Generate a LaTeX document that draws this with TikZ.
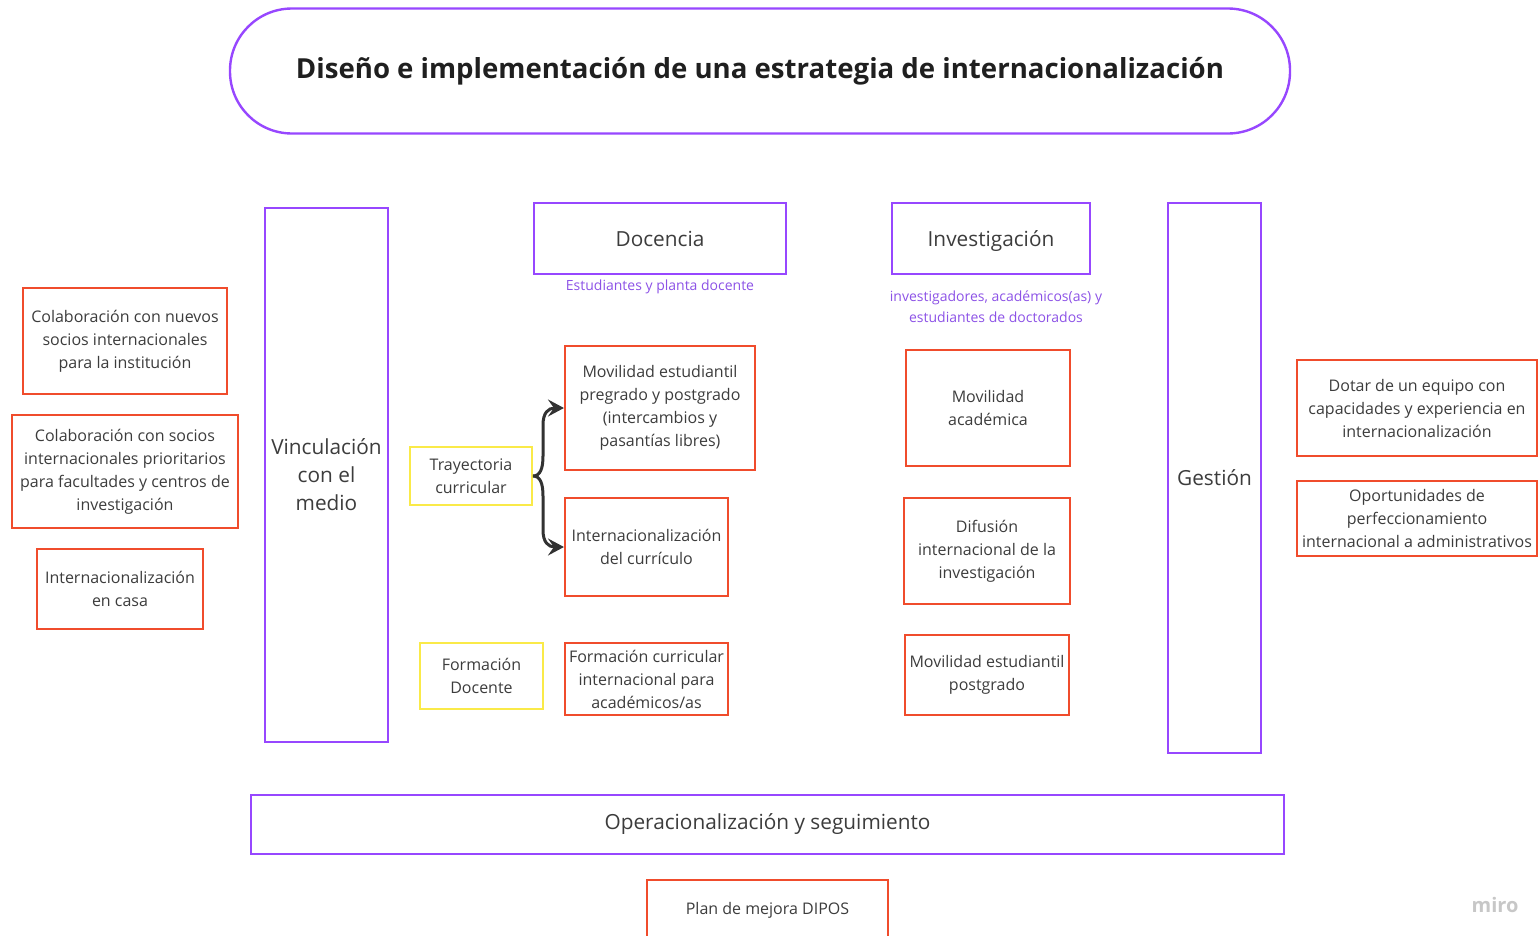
\documentclass[tikz,border=0pt]{standalone}
\usepackage{fontspec}
\setmainfont{Open Sans}
\usetikzlibrary{arrows.meta}

\definecolor{purpleline}{RGB}{151,71,255}
\definecolor{redline}{RGB}{240,76,44}
\definecolor{yellowline}{RGB}{250,234,72}
\definecolor{textgray}{RGB}{60,60,60}
\definecolor{subpurple}{RGB}{140,82,230}
\definecolor{conngray}{RGB}{50,50,50}

\tikzset{
  mainbox/.style={draw=purpleline, line width=2.4pt, text=textgray, align=center, inner sep=0pt,
    font=\fontsize{20.8}{28}\selectfont},
  itembox/.style={draw=redline, line width=2.1pt, text=textgray, align=center, inner sep=0pt,
    font=\fontsize{16}{23}\selectfont},
  pathbox/.style={draw=yellowline, line width=1.9pt, text=textgray, align=center, inner sep=0pt,
    font=\fontsize{16}{23}\selectfont},
  subtext/.style={text=subpurple, align=center, inner sep=0pt, font=\fontsize{14}{21}\selectfont},
  conn/.style={draw=conngray, line width=3pt, -{Stealth[length=16pt,width=17pt,inset=6pt]}}
}

\begin{document}
\begin{tikzpicture}[x=1pt,y=-1pt]
\useasboundingbox (0,0) rectangle (1539,935);

%Shape: Title
\node [draw=purpleline, line width=2.4pt, rounded corners=62pt, minimum width=1060pt, minimum height=125pt,
  inner sep=0pt, text=black!88, font=\fontsize{27.6}{32}\selectfont\bfseries] (title) at (760,71)
  {Diseño e implementación de una estrategia de internacionalización};

%Shape: Pillars
\node [mainbox, minimum width=123pt, minimum height=534pt] (vinc) at (326.5,475) {Vinculación\\con el\\medio};
\node [mainbox, minimum width=252pt, minimum height=71pt] (doc) at (660,238.5) {Docencia};
\node [mainbox, minimum width=198pt, minimum height=71pt, text depth=0pt] (inv) at (991,238.5) {Investigación};
\node [mainbox, minimum width=93pt, minimum height=550pt] (gest) at (1214.5,478) {Gestión};
\node [mainbox, minimum width=1033pt, minimum height=59pt] (oper) at (767.5,824.5) {Operacionalización y seguimiento};

% Text Node
\node [subtext] (docsub) at (660,287) {Estudiantes y planta docente};
\node [subtext] (invsub) at (996,306.5) {investigadores, académicos(as) y\\estudiantes de doctorados};

%Shape: Left column
\node [itembox, minimum width=204pt, minimum height=106pt] (colnuevos) at (125,341)
  {Colaboración con nuevos\\socios internacionales\\para la institución};
\node [itembox, minimum width=226pt, minimum height=113pt] (colprio) at (125,471.5)
  {Colaboración con socios\\internacionales prioritarios\\para facultades y centros de\\investigación};
\node [itembox, minimum width=166pt, minimum height=80pt] (casa) at (120,589)
  {Internacionalización\\en casa};

%Shape: Docencia column
\node [pathbox, minimum width=122pt, minimum height=58pt] (tray) at (471,476) {Trayectoria\\curricular};
\node [pathbox, minimum width=123pt, minimum height=66pt] (fdoc) at (481.5,676) {Formación\\Docente};
\node [itembox, minimum width=190pt, minimum height=124pt] (movest) at (660,408)
  {Movilidad estudiantil\\pregrado y postgrado\\(intercambios y\\pasantías libres)};
\node [itembox, minimum width=163pt, minimum height=98pt] (curr) at (646.5,547)
  {Internacionalización\\del currículo};
\node [itembox, minimum width=163pt, minimum height=72pt] (fcurr) at (646.5,679)
  {Formación curricular\\internacional para\\académicos/as};

%Shape: Investigación column
\node [itembox, minimum width=164pt, minimum height=116pt] (movac) at (988,408) {Movilidad\\académica};
\node [itembox, minimum width=166pt, minimum height=106pt] (difu) at (987,551)
  {Difusión\\internacional de la\\investigación};
\node [itembox, minimum width=164pt, minimum height=80pt] (movpg) at (987,675)
  {Movilidad estudiantil\\postgrado};

%Shape: Gestión column
\node [itembox, minimum width=240pt, minimum height=96pt] (dotar) at (1417,408)
  {Dotar de un equipo con\\capacidades y experiencia en\\internacionalización};
\node [itembox, minimum width=240pt, minimum height=75pt] (oport) at (1417,518.5)
  {Oportunidades de\\perfeccionamiento\\internacional a administrativos};

%Shape: Bottom
\node [itembox, minimum width=241pt, minimum height=60pt] (plan) at (767.5,910) {Plan de mejora DIPOS};

%Connectors
\draw [conn] (tray.east) .. controls (540,476) and (543,469) .. (543,456) -- (543,425)
  .. controls (543,413) and (548,408) .. (movest.west);
\draw [conn] (tray.east) .. controls (540,476) and (543,483) .. (543,496) -- (543,530)
  .. controls (543,542) and (548,547) .. (curr.west);

% Text Node
\node [text=black!22, font=\fontsize{20}{24}\selectfont\bfseries] (miro) at (1495,905) {miro};
\end{tikzpicture}
\end{document}
